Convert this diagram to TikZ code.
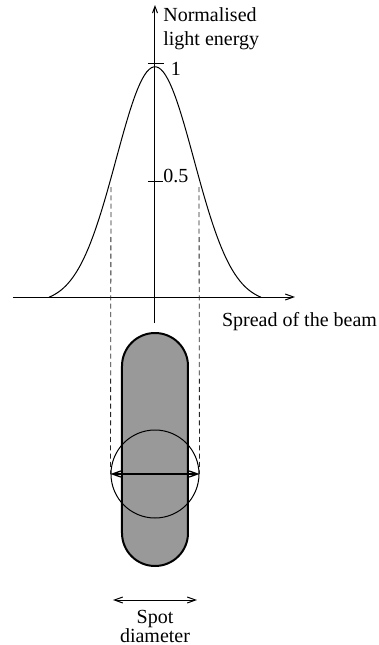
\documentclass[tikz,border=0pt]{standalone}
\usepackage{fontspec}
\setmainfont{Liberation Serif}
\usepackage{tikz}
\usetikzlibrary{arrows.meta,positioning,calc}
\definecolor{spotgrey}{RGB}{153,153,153}

\begin{document}
\begin{tikzpicture}[x=0.6pt,y=0.6pt,>={Straight Barb[length=5pt,width=3.6pt]},
    axis/.style={line width=0.6pt,->},
    guide/.style={line width=0.5pt,black!85,dash pattern=on 3pt off 2pt},
    lbl/.style={font=\fontsize{12}{14.5}\selectfont,inner sep=0pt}]
  \useasboundingbox (-155,-348) rectangle (224,297);
  % axes
  \coordinate (xl) at (-142,0);
  \coordinate (xr) at (140,0);
  \coordinate (yb) at (0,-26);
  \coordinate (yt) at (0,292);
  \draw[axis] (xl) -- (xr);
  \draw[line width=0.6pt,-{Straight Barb[length=4pt,width=3pt]}] (yb) -- (yt);
  \node[lbl,align=left,anchor=north west] (ylab) at (8,290) {Normalised\\light energy};
  \node[lbl,anchor=base] (xlab) at (144.5,-29) {Spread of the beam};
  % ticks
  \coordinate (t1a) at (-7,233);
  \coordinate (t1b) at (9,233);
  \coordinate (t5a) at (-7,116);
  \coordinate (t5b) at (8,116);
  \draw[line width=0.6pt] (t1a) -- (t1b);
  \draw[line width=0.6pt] (t5a) -- (t5b);
  \node[lbl] (one) at (21,228) {1};
  \node[lbl] (half) at (21,121) {0.5};
  % beam profile
  \draw[line width=0.6pt] plot[domain=-106:106,samples=90,smooth]
    (\x,{236.3*(exp(-\x*\x/3042)-0.0257)});
  \coordinate (hl) at (-44,110);
  \coordinate (hr) at (44,110);
  % elongated spot
  \draw[line width=1.2pt,fill=spotgrey] (-33,-69) arc (180:0:33) -- (33,-236)
    arc (0:-180:33) -- cycle;
  \node[circle,draw,line width=0.6pt,minimum size=52.8pt,inner sep=0pt] (spot) at (0,-177) {};
  \draw[guide] (hl) -- (spot.west);
  \draw[guide] (hr) -- (spot.east);
  \draw[line width=0.8pt,<->] (spot.west) -- (spot.east);
  % spot diameter
  \coordinate (dl) at (-42,-303);
  \coordinate (dr) at (42,-303);
  \draw[line width=0.6pt,<->] (dl) -- (dr);
  \node[lbl,anchor=base] (spt) at (0,-326) {Spot};
  \node[lbl,anchor=base] (dia) at (0,-345.5) {diameter};
\end{tikzpicture}
\end{document}
